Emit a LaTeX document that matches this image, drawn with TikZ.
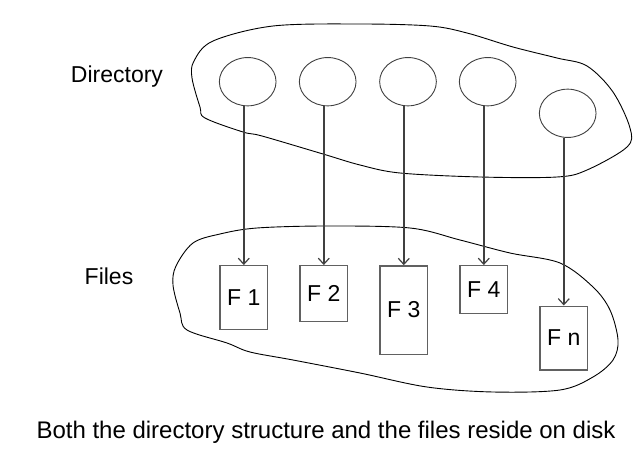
\documentclass[tikz,border=0pt]{standalone}
\usepackage{fontspec}
\setmainfont{Liberation Sans}
\usetikzlibrary{shapes.geometric,arrows.meta}
\begin{document}
\begin{tikzpicture}[x=1pt,y=-1pt,
  dirnode/.style={draw=black!75,line width=0.9pt,ellipse,minimum width=56.7pt,minimum height=48.3pt,inner sep=0pt},
  filebox/.style={draw=black!62,line width=1.3pt,rectangle,minimum width=47.7pt,inner sep=0pt,font=\fontsize{23}{26}\selectfont},
  lbl/.style={font=\fontsize{23}{26}\selectfont,inner sep=0pt},
  blob/.style={draw=black,line width=0.9pt},
  ptr/.style={draw=black!75,line width=1.4pt,-{Straight Barb[length=6pt,width=11pt,line width=1.2pt]}}]
\useasboundingbox (0,0) rectangle (641,460);
% directory blob
\draw[blob] plot[smooth cycle,tension=0.55] coordinates {
 (192,78) (194,61) (213,41) (273,26) (360,24) (430,26) (467,33) (513,47) (557,58) (587,66)
 (613,92) (630,128) (627,147) (587,170) (557,177) (480,177) (400,173) (360,165)
 (323,154) (262,136) (243,132) (205,118) (200,107)};
% files blob
\draw[blob] plot[smooth cycle,tension=0.55] coordinates {
 (173,285) (176,266) (193,243) (220,234) (257,228) (327,226) (410,228) (460,240) (510,253)
 (560,263) (593,287) (610,310) (618,340) (613,360) (593,377) (560,390) (493,392)
 (427,387) (360,373) (293,360) (250,352) (227,343) (187,330) (180,313)};
% directory entries
\node[dirnode] (c1) at (247.7,81.7) {};
\node[dirnode] (c2) at (327.7,81.7) {};
\node[dirnode] (c3) at (408,81.7) {};
\node[dirnode] (c4) at (487.7,81.7) {};
\node[dirnode] (c5) at (567.7,113.3) {};
% files
\node[filebox,minimum height=64pt] (f1) at (243.8,297.7) {F 1};
\node[filebox,minimum height=56pt] (f2) at (323.8,293.7) {F 2};
\node[filebox,minimum height=88.3pt] (f3) at (403.8,310) {F 3};
\node[filebox,minimum height=48pt] (f4) at (483.8,289.7) {F 4};
\node[filebox,minimum height=63.7pt] (f5) at (563.8,338) {F n};
% pointers
\foreach \i in {1,...,5}{
  \draw[ptr] (f\i.north |- c\i.south) -- (f\i.north);
}
% labels
\node[lbl] (ldir) at (117,77) {Directory};
\node[lbl] (lfiles) at (109,276) {Files};
\node[lbl,font=\fontsize{24}{28}\selectfont] (cap) at (326,432) {Both the directory structure and the files reside on disk};
\end{tikzpicture}
\end{document}
